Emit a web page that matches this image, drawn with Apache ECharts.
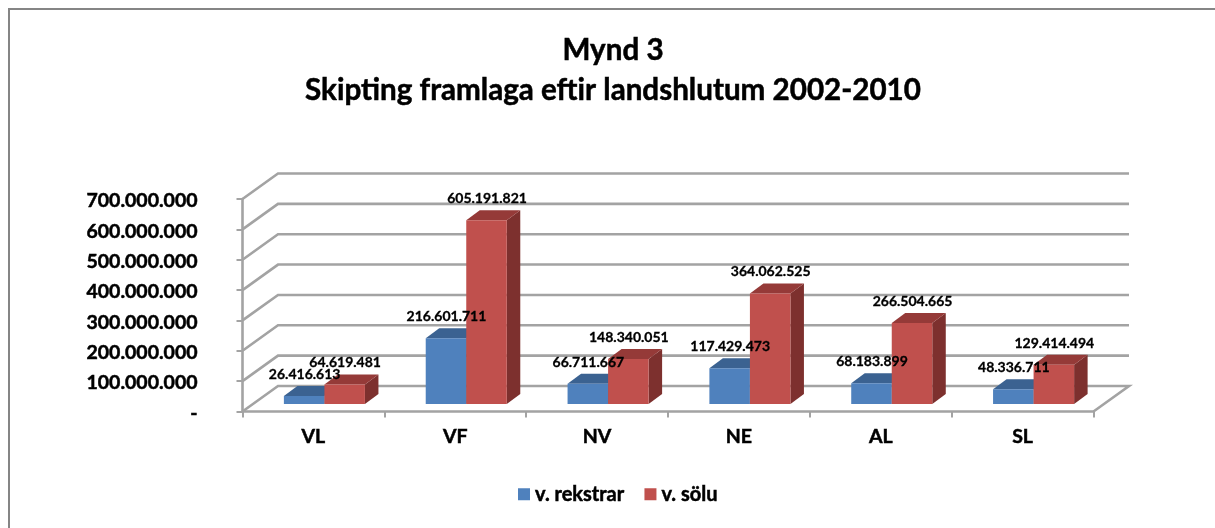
<!DOCTYPE html>
<html>
<head>
<meta charset="utf-8">
<style>
  html, body { margin: 0; padding: 0; background: #fff; }
  #main { width: 1215px; height: 528px; filter: blur(0.4px); }
</style>
<script src="https://cdn.jsdelivr.net/npm/echarts@6/dist/echarts.min.js"></script>
</head>
<body>
<div id="main"></div>
<script>
var categories = ["VL", "VF", "NV", "NE", "AL", "SL"];
var rekstrar = [26416613, 216601711, 66711667, 117429473, 68183899, 48336711];
var solu = [64619481, 605191821, 148340051, 364062525, 266504665, 129414494];
var yTicks = [0, 100000000, 200000000, 300000000, 400000000, 500000000, 600000000, 700000000];

// fake 3d: floor depth and how far the bars sit back from the front edge
var WALL_DX = 35.5, WALL_DY = -25.5;
var BAR_DX = 13.5, BAR_DY = -10;
var BASE_DX = 11, BASE_DY = -7.5;
var GREY = "#a3a3a3";
var BOLD = { fontFamily: "Lato", fontWeight: "bold", color: "#000", textBorderColor: "#000", textBorderWidth: 0.5 };

function fmt(v) {
  if (v === 0) return "-";
  return String(v).replace(/\B(?=(\d{3})+(?!\d))/g, ".");
}

function bold(size, extra) {
  return Object.assign({ fontSize: size }, BOLD, extra || {});
}

function renderWall(params, api) {
  var v = api.value(0);
  var band = api.size([1, 0])[0];
  var p0 = api.coord([0, v]);
  var p5 = api.coord([categories.length - 1, v]);
  var left = p0[0] - band / 2;
  var right = p5[0] + band / 2;
  var y = p0[1];
  var pts = [[left, y], [left + WALL_DX, y + WALL_DY], [right + WALL_DX, y + WALL_DY]];
  if (v === 0) pts.push([right, y]);
  return {
    type: "polyline",
    shape: { points: pts },
    style: { stroke: GREY, lineWidth: 2.6, fill: null }
  };
}

// side: 0 = blue bar left of center, 1 = red bar right of center
function barRenderer(side, front, top, right) {
  return function (params, api) {
    var idx = api.value(0);
    var val = api.value(1);
    var band = api.size([1, 0])[0];
    var w = band / 3.5;
    var c = api.coord([idx, val]);
    var b = api.coord([idx, 0]);
    var x0 = c[0] + BASE_DX + (side === 0 ? -w : 0);
    var x1 = x0 + w;
    var yTop = c[1] + BASE_DY;
    var yBot = b[1] + BASE_DY;
    return {
      type: "group",
      children: [
        { type: "polygon", shape: { points: [[x1, yTop], [x1 + BAR_DX, yTop + BAR_DY], [x1 + BAR_DX, yBot + BAR_DY], [x1, yBot]] }, style: { fill: right } },
        { type: "polygon", shape: { points: [[x0, yTop], [x0 + BAR_DX, yTop + BAR_DY], [x1 + BAR_DX, yTop + BAR_DY], [x1, yTop]] }, style: { fill: top } },
        { type: "rect", shape: { x: x0, y: yTop, width: w, height: yBot - yTop }, style: { fill: front } },
        {
          type: "text",
          z2: 100,
          style: {
            x: x0 + w / 2 + 0.5,
            y: yTop + BAR_DY - 11.5,
            text: fmt(val),
            fill: "#000",
            stroke: "#000",
            lineWidth: 0.3,
            font: "bold 14px Lato",
            align: "center",
            verticalAlign: "middle"
          }
        }
      ]
    };
  };
}

var chart = echarts.init(document.getElementById("main"), null, { renderer: "canvas" });
chart.setOption({
  animation: false,
  backgroundColor: "#fff",
  color: ["#4f81bd", "#c0504d"],
  title: {
    text: "Mynd 3\nSkipting framlaga eftir landshlutum 2002-2010",
    left: 608,
    top: 25,
    textAlign: "center",
    textStyle: bold(29.6, { lineHeight: 40 })
  },
  legend: {
    left: 518,
    top: 484,
    padding: 0,
    itemWidth: 12,
    itemHeight: 12,
    itemGap: 20,
    icon: "rect",
    data: ["v. rekstrar", "v. sölu"],
    textStyle: bold(20, { padding: [0, 0, 0, 0] })
  },
  grid: { left: 242.5, right: 121.5, top: 199, bottom: 116.5 },
  xAxis: {
    type: "category",
    data: categories,
    axisLine: { lineStyle: { color: GREY, width: 2.6 } },
    axisTick: { show: true, alignWithLabel: false, length: 6, lineStyle: { color: GREY, width: 2 } },
    axisLabel: bold(19.5, { margin: 15 })
  },
  yAxis: {
    type: "value",
    min: 0,
    max: 700000000,
    interval: 100000000,
    splitLine: { show: false },
    axisLine: { show: true, lineStyle: { color: GREY, width: 2.6 } },
    axisTick: { show: true, length: 6, lineStyle: { color: GREY, width: 2 } },
    axisLabel: bold(19.5, { margin: 45, verticalAlign: "top", lineHeight: 4, formatter: fmt })
  },
  graphic: [{
    type: "polyline",
    silent: true,
    shape: { points: [[9, 528], [9, 9], [1215, 9]] },
    style: { stroke: "#858585", lineWidth: 2, fill: null }
  }],
  series: [
    {
      name: "walls",
      type: "custom",
      silent: true,
      data: yTicks.map(function (t) { return [t]; }),
      encode: { y: 0 },
      renderItem: renderWall,
      z: 1
    },
    {
      name: "v. rekstrar",
      type: "custom",
      itemStyle: { color: "#4f81bd" },
      data: rekstrar.map(function (v, i) { return [i, v]; }),
      encode: { x: 0, y: 1 },
      renderItem: barRenderer(0, "#4f81bd", "#3b6291", "#335580"),
      z: 3
    },
    {
      name: "v. sölu",
      type: "custom",
      itemStyle: { color: "#c0504d" },
      data: solu.map(function (v, i) { return [i, v]; }),
      encode: { x: 0, y: 1 },
      renderItem: barRenderer(1, "#c0504d", "#953a38", "#7d302e"),
      z: 3
    }
  ]
});
</script>
</body>
</html>
